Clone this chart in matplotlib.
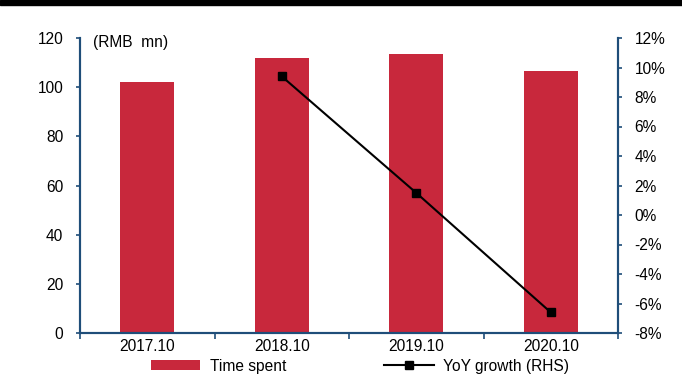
import matplotlib
matplotlib.use("Agg")
import matplotlib.pyplot as plt
from matplotlib.patches import Rectangle
from matplotlib.ticker import FuncFormatter

plt.rcParams["font.family"] = ["Liberation Sans", "DejaVu Sans"]
plt.rcParams["font.size"] = 11.2

periods = ["2017.10", "2018.10", "2019.10", "2020.10"]
time_spent = [102.0, 111.8, 113.5, 106.5]
yoy_periods = ["2018.10", "2019.10", "2020.10"]
yoy_growth = [9.4, 1.5, -6.6]

spine_c = "#1F4E79"
bar_c = "#C8283C"

fig = plt.figure(figsize=(6.82, 3.85), dpi=100)
fig.add_artist(Rectangle((0, 1 - 5 / 385), 1, 5 / 385, transform=fig.transFigure,
                         color="black", zorder=10))

ax = fig.add_axes([80 / 682, 52 / 385, 538 / 682, 295 / 385])
x = list(range(len(periods)))
ax.bar(x, time_spent, width=0.4, color=bar_c, label="Time spent", zorder=2)
ax.set_xlim(-0.5, len(periods) - 0.5)
ax.set_ylim(0, 120)
ax.set_yticks(range(0, 121, 20))
ax.set_xticks(x)
ax.set_xticklabels(periods)
ax.tick_params(axis="x", length=0, pad=4)
ax.set_xticks([i - 0.5 for i in range(len(periods) + 1)], minor=True)
ax.tick_params(axis="x", which="minor", length=4, direction="out", color=spine_c, width=1.2)
ax.tick_params(axis="y", length=3, direction="out", color=spine_c, width=1.2, pad=9)
ax.spines["top"].set_visible(False)
for s in ["left", "bottom", "right"]:
    ax.spines[s].set_color(spine_c)
    ax.spines[s].set_linewidth(1.5)
ax.text(0.024, 0.985, "(RMB  mn)", transform=ax.transAxes, ha="left", va="center")

ax2 = ax.twinx()
xi = [periods.index(p) for p in yoy_periods]
ax2.plot(xi, yoy_growth, color="black", lw=1.5, marker="s", markersize=5.2,
         label="YoY growth (RHS)", zorder=3)
ax2.set_ylim(-8, 12)
ax2.set_yticks(range(-8, 13, 2))
ax2.yaxis.set_major_formatter(FuncFormatter(lambda v, p: f"{v:.0f}%"))
ax2.tick_params(axis="y", length=3, direction="out", color=spine_c, width=1.2, pad=9)
ax2.spines["top"].set_visible(False)
for s in ["left", "bottom", "right"]:
    ax2.spines[s].set_color(spine_c)
    ax2.spines[s].set_linewidth(1.5)

h1, l1 = ax.get_legend_handles_labels()
h2, l2 = ax2.get_legend_handles_labels()
fig.legend(h1 + h2, l1 + l2, loc="center", bbox_to_anchor=(360 / 682, 1 - 366 / 385), ncol=2,
           frameon=False, handlelength=3.2, handleheight=0.55, columnspacing=6.3,
           handletextpad=0.6, borderaxespad=0)

fig.savefig("out.png", dpi=100)
